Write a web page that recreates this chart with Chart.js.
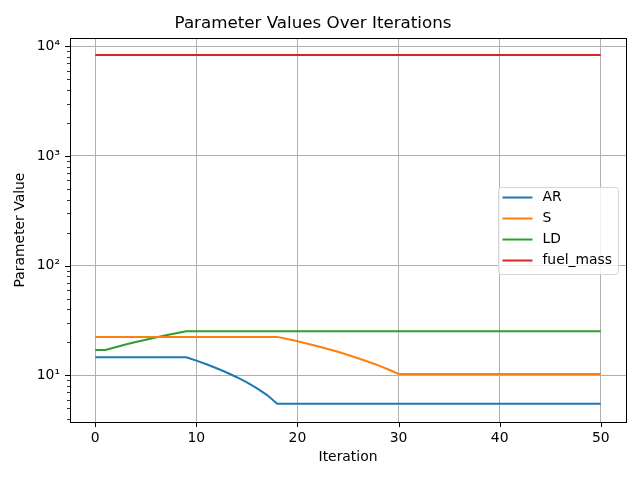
<!DOCTYPE html>
<html>
<head>
<meta charset="utf-8">
<script src="https://cdn.jsdelivr.net/npm/chart.js@4.4.1/dist/chart.umd.min.js"></script>
<style>
    html, body { margin: 0; padding: 0; background: #ffffff; }
    #wrap { width: 640px; height: 480px; }
</style>
</head>
<body>
<div id="wrap"><canvas id="chart" width="640" height="480"></canvas></div>
<script>
// Data
const iterations = [
    0, 1, 2, 3, 4, 5, 6, 7, 8, 9, 10, 11, 12, 13, 14, 15, 16, 17, 18, 19, 20, 21, 22, 23, 24, 25,
    26, 27, 28, 29, 30, 31, 32, 33, 34, 35, 36, 37, 38, 39, 40, 41, 42, 43, 44, 45, 46, 47, 48, 49, 50
];
const arValues = [
    14.6, 14.6, 14.6, 14.6, 14.6, 14.6, 14.6, 14.6, 14.6, 14.6, 13.6, 12.6, 11.6, 10.6, 9.6, 8.6, 7.6, 6.6, 5.5, 5.5,
    5.5, 5.5, 5.5, 5.5, 5.5, 5.5, 5.5, 5.5, 5.5, 5.5, 5.5, 5.5, 5.5, 5.5, 5.5, 5.5, 5.5, 5.5, 5.5, 5.5,
    5.5, 5.5, 5.5, 5.5, 5.5, 5.5, 5.5, 5.5, 5.5, 5.5, 5.5
];
const sValues = [
    22.4, 22.4, 22.4, 22.4, 22.4, 22.4, 22.4, 22.4, 22.4, 22.4, 22.4, 22.4, 22.4, 22.4, 22.4, 22.4, 22.4, 22.4, 22.4, 21.4,
    20.4, 19.4, 18.4, 17.4, 16.4, 15.3, 14.3, 13.3, 12.3, 11.3, 10.3, 10.3, 10.3, 10.3, 10.3, 10.3, 10.3, 10.3, 10.3, 10.3,
    10.3, 10.3, 10.3, 10.3, 10.3, 10.3, 10.3, 10.3, 10.3, 10.3, 10.3
];
const ldValues = [
    17.0, 17.0, 18.0, 19.1, 20.1, 21.1, 22.1, 23.2, 24.2, 25.2, 25.2, 25.2, 25.2, 25.2, 25.2, 25.2, 25.2, 25.2, 25.2, 25.2,
    25.2, 25.2, 25.2, 25.2, 25.2, 25.2, 25.2, 25.2, 25.2, 25.2, 25.2, 25.2, 25.2, 25.2, 25.2, 25.2, 25.2, 25.2, 25.2, 25.2,
    25.2, 25.2, 25.2, 25.2, 25.2, 25.2, 25.2, 25.2, 25.2, 25.2, 25.2
];
const fuelMassValues = [
    8330, 8330, 8330, 8330, 8330, 8330, 8330, 8330, 8330, 8330, 8330, 8330, 8330, 8330, 8330, 8330, 8330, 8330, 8330, 8330,
    8330, 8330, 8330, 8330, 8330, 8330, 8330, 8330, 8330, 8330, 8330, 8330, 8330, 8330, 8330, 8330, 8330, 8330, 8330, 8330,
    8330, 8330, 8330, 8330, 8330, 8330, 8330, 8330, 8330, 8330, 8330
];
const seriesNames = ['AR', 'S', 'LD', 'fuel_mass'];
const xTicks = [0, 10, 20, 30, 40, 50];
const yMajorTicks = [10, 100, 1000, 10000];
const yMinorTicks = [
    4, 5, 6, 7, 8, 9,
    20, 30, 40, 50, 60, 70, 80, 90,
    200, 300, 400, 500, 600, 700, 800, 900,
    2000, 3000, 4000, 5000, 6000, 7000, 8000, 9000
];
const superscripts = { 10: '10\u00B9', 100: '10\u00B2', 1000: '10\u00B3', 10000: '10\u2074' };

const FONT = "'DejaVu Sans', sans-serif";
const colors = ['#1f77b4', '#ff7f0e', '#2ca02c', '#d62728'];

const toPoints = values => values.map((v, i) => ({ x: iterations[i], y: v }));
const allSeries = [arValues, sValues, ldValues, fuelMassValues];

const datasets = allSeries.map((vals, i) => ({
    label: seriesNames[i],
    data: toPoints(vals),
    borderColor: colors[i],
    backgroundColor: colors[i],
    borderWidth: 2,
    pointRadius: 0,
    tension: 0,
    fill: false
}));

// Matplotlib-like frame, tick marks and legend box
const mplDecor = {
    id: 'mplDecor',
    afterDraw(chart) {
        const { ctx, chartArea: a, scales } = chart;
        ctx.save();
        ctx.strokeStyle = '#000000';

        const seg = (x1, y1, x2, y2) => {
            ctx.beginPath();
            ctx.moveTo(x1, y1);
            ctx.lineTo(x2, y2);
            ctx.stroke();
        };

        ctx.lineWidth = 1;
        xTicks.forEach(v => {
            const px = Math.round(scales.x.getPixelForValue(v)) + 0.5;
            seg(px, a.bottom, px, a.bottom + 5);
        });
        yMajorTicks.forEach(v => {
            const py = Math.round(scales.y.getPixelForValue(v)) + 0.5;
            seg(a.left - 5, py, a.left, py);
        });
        ctx.lineWidth = 0.8;
        yMinorTicks.forEach(v => {
            const py = Math.round(scales.y.getPixelForValue(v)) + 0.5;
            seg(a.left - 3, py, a.left, py);
        });

        // spines
        ctx.lineWidth = 1;
        ctx.strokeRect(Math.round(a.left) + 0.5, Math.round(a.top) + 0.5,
            Math.round(a.right - a.left), Math.round(a.bottom - a.top));

        // legend (center right)
        ctx.font = '13.9px ' + FONT;
        const textW = Math.max(...seriesNames.map(n => ctx.measureText(n).width));
        const rowH = 21;
        const boxW = 4 + 30 + 10 + textW + 6;
        const boxH = rowH * seriesNames.length + 3;
        const boxRight = a.right - 8;
        const boxLeft = boxRight - boxW;
        const boxTop = (a.top + a.bottom) / 2 - boxH / 2;

        ctx.beginPath();
        ctx.roundRect(Math.round(boxLeft) + 0.5, Math.round(boxTop) + 0.5, Math.round(boxW), Math.round(boxH), 3);
        ctx.fillStyle = 'rgba(255,255,255,0.8)';
        ctx.fill();
        ctx.strokeStyle = '#d5d5d5';
        ctx.stroke();

        chart.data.datasets.forEach((ds, i) => {
            const cy = boxTop + 11 + i * rowH;
            ctx.strokeStyle = ds.borderColor;
            ctx.lineWidth = 2;
            seg(boxLeft + 4, cy, boxLeft + 34, cy);
            ctx.fillStyle = '#000000';
            ctx.textBaseline = 'middle';
            ctx.textAlign = 'left';
            ctx.fillText(ds.label, boxLeft + 44, cy);
        });
        ctx.restore();
    }
};

const ctx = document.getElementById('chart').getContext('2d');
new Chart(ctx, {
    type: 'line',
    data: { datasets: datasets },
    options: {
        responsive: false,
        animation: false,
        devicePixelRatio: 1,
        layout: { padding: { left: 0, right: 14, top: 0, bottom: 0 } },
        scales: {
            x: {
                type: 'linear',
                min: -2.5,
                max: 52.5,
                afterBuildTicks: scale => { scale.ticks = xTicks.map(v => ({ value: v })); },
                afterFit: scale => { scale.height = 58; },
                grid: { color: '#b0b0b0', lineWidth: 1, drawTicks: false },
                border: { display: false },
                ticks: {
                    autoSkip: false,
                    maxRotation: 0,
                    padding: 8,
                    color: '#000000',
                    font: { family: FONT, size: 13.9 }
                },
                title: {
                    display: true,
                    text: 'Iteration',
                    color: '#000000',
                    font: { family: FONT, size: 13.9 },
                    padding: { top: 0, bottom: 14 }
                }
            },
            y: {
                type: 'logarithmic',
                min: 3.75,
                max: 11900,
                afterBuildTicks: scale => {
                    scale.ticks = yMinorTicks.concat(yMajorTicks).sort((p, q) => p - q).map(v => ({ value: v }));
                },
                afterFit: scale => { scale.width = 70; },
                grid: {
                    color: c => (c.tick && yMajorTicks.includes(c.tick.value)) ? '#b0b0b0' : 'rgba(0,0,0,0)',
                    lineWidth: 1,
                    drawTicks: false
                },
                border: { display: false },
                ticks: {
                    autoSkip: false,
                    padding: 10,
                    color: '#000000',
                    font: { family: FONT, size: 13.9 },
                    callback: v => superscripts[v] || ''
                },
                title: {
                    display: true,
                    text: 'Parameter Value',
                    color: '#000000',
                    font: { family: FONT, size: 13.9 },
                    padding: { top: 12, bottom: 0 }
                }
            }
        },
        plugins: {
            legend: { display: false },
            tooltip: { enabled: false },
            title: {
                display: true,
                text: 'Parameter Values Over Iterations',
                color: '#000000',
                font: { family: FONT, size: 16.7, weight: 'normal' },
                padding: { top: 13.5, bottom: 4.5 }
            }
        }
    },
    plugins: [mplDecor]
});
</script>
</body>
</html>
